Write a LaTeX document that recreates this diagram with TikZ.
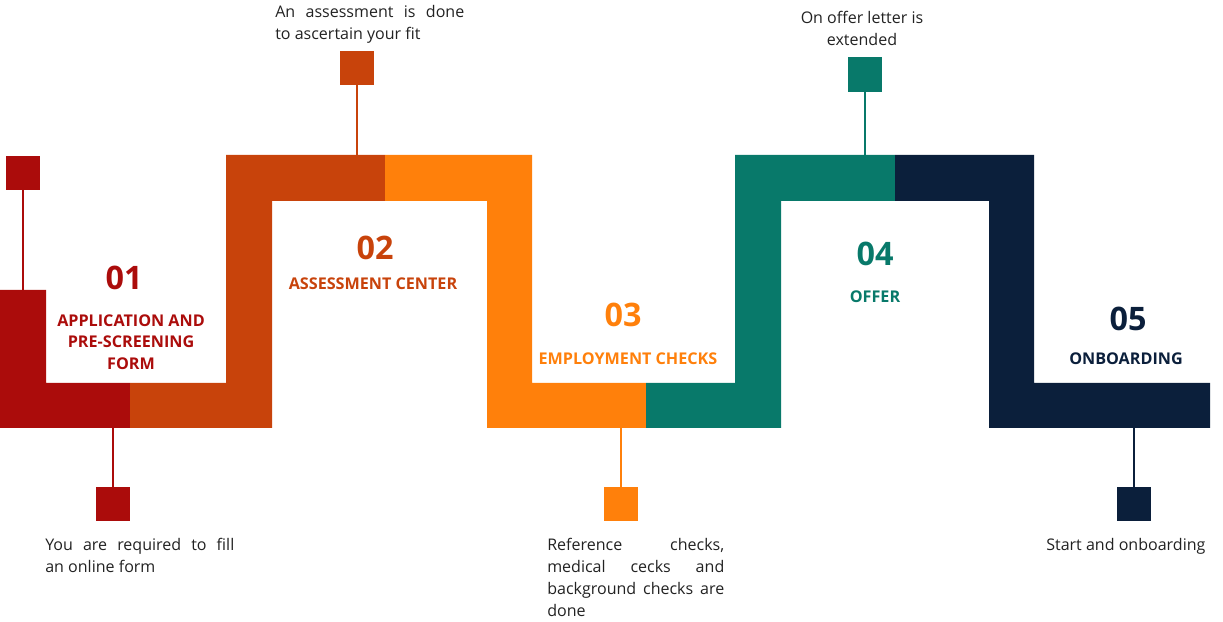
\documentclass[tikz,border=0pt]{standalone}
\usepackage{fontspec}
\setmainfont{Open Sans}
\usepackage{tikz}
\usetikzlibrary{positioning}

\definecolor{stepA}{HTML}{AB0C0B}
\definecolor{stepB}{HTML}{C8430B}
\definecolor{stepC}{HTML}{FF800B}
\definecolor{stepD}{HTML}{08796A}
\definecolor{stepE}{HTML}{0B1F3B}
\definecolor{notegray}{HTML}{222222}

\begin{document}
\begin{tikzpicture}[
        x=0.025cm, y=-0.025cm,
        sq/.style={rectangle, fill=#1, inner sep=0pt, minimum size=0.86cm},
        stem/.style={draw=#1, line width=1.4pt},
        num/.style={text=#1, font=\bfseries\fontsize{23}{26}\selectfont},
        title/.style={text=#1, align=center,
            font=\bfseries\fontsize{11.5}{15.3}\selectfont},
        note/.style={text=notegray, inner sep=0pt,
            font=\fontsize{11.4}{15.6}\selectfont}
    ]
    \useasboundingbox (0,0) rectangle (1223,622);

    % the winding band
    \fill[stepA] (0,290) -- (46,290) -- (46,383) -- (130,383) -- (130,428) -- (0,428) -- cycle;
    \fill[stepB] (130,383) -- (226,383) -- (226,155) -- (385,155) -- (385,201) -- (272,201) -- (272,428) -- (130,428) -- cycle;
    \fill[stepC] (385,155) -- (532,155) -- (532,383) -- (646,383) -- (646,428) -- (487,428) -- (487,201) -- (385,201) -- cycle;
    \fill[stepD] (646,383) -- (735,383) -- (735,155) -- (895,155) -- (895,201) -- (781,201) -- (781,428) -- (646,428) -- cycle;
    \fill[stepE] (895,155) -- (1034,155) -- (1034,383) -- (1210,383) -- (1210,428) -- (989,428) -- (989,201) -- (895,201) -- cycle;

    % markers
    \node [sq=stepA] (sqa) at (23,173) {};
    \node [sq=stepA] (sqb) at (113,504) {};
    \node [sq=stepB] (sqc) at (357,68) {};
    \node [sq=stepC] (sqd) at (621,504) {};
    \node [sq=stepD] (sqe) at (865,74.5) {};
    \node [sq=stepE] (sqf) at (1134,504) {};

    \coordinate (ba) at (23,290);
    \coordinate (bb) at (113,428);
    \coordinate (bc) at (357,155);
    \coordinate (bd) at (621,428);
    \coordinate (be) at (865,155);
    \coordinate (bf) at (1134,428);

    \path [stem=stepA] (sqa) -- (ba);
    \path [stem=stepA] (sqb) -- (bb);
    \path [stem=stepB] (sqc) -- (bc);
    \path [stem=stepC] (sqd) -- (bd);
    \path [stem=stepD] (sqe) -- (be);
    \path [stem=stepE] (sqf) -- (bf);

    % step numbers and titles
    \node [num=stepA] (n1) at (124,278) {01};
    \node [title=stepA] (t1) at (131,342) {APPLICATION AND\\PRE-SCREENING\\FORM};
    \node [num=stepB] (n2) at (375,248) {02};
    \node [title=stepB] (t2) at (373,284) {ASSESSMENT CENTER};
    \node [num=stepC] (n3) at (623,315) {03};
    \node [title=stepC] (t3) at (628,359) {EMPLOYMENT CHECKS};
    \node [num=stepD] (n4) at (875,254) {04};
    \node [title=stepD] (t4) at (875,297) {OFFER};
    \node [num=stepE] (n5) at (1128,319) {05};
    \node [title=stepE] (t5) at (1126,359) {ONBOARDING};

    % notes
    \node [note, align=justify, text width=4.725cm, anchor=north west] (d1) at (45,538)
        {You are required to fill\linebreak an online form};
    \node [note, align=justify, text width=4.725cm, anchor=north west] (d2) at (275,5)
        {An assessment is done\linebreak to ascertain your fit};
    \node [note, align=center, anchor=north] (d3) at (862,11)
        {On offer letter is\\extended};
    \node [note, align=justify, text width=4.425cm, anchor=north west] (d4) at (547,538)
        {Reference checks,\linebreak medical cecks and\linebreak background checks are\linebreak done};
    \node [note, anchor=north west] (d5) at (1046,538) {Start and onboarding};
\end{tikzpicture}
\end{document}
